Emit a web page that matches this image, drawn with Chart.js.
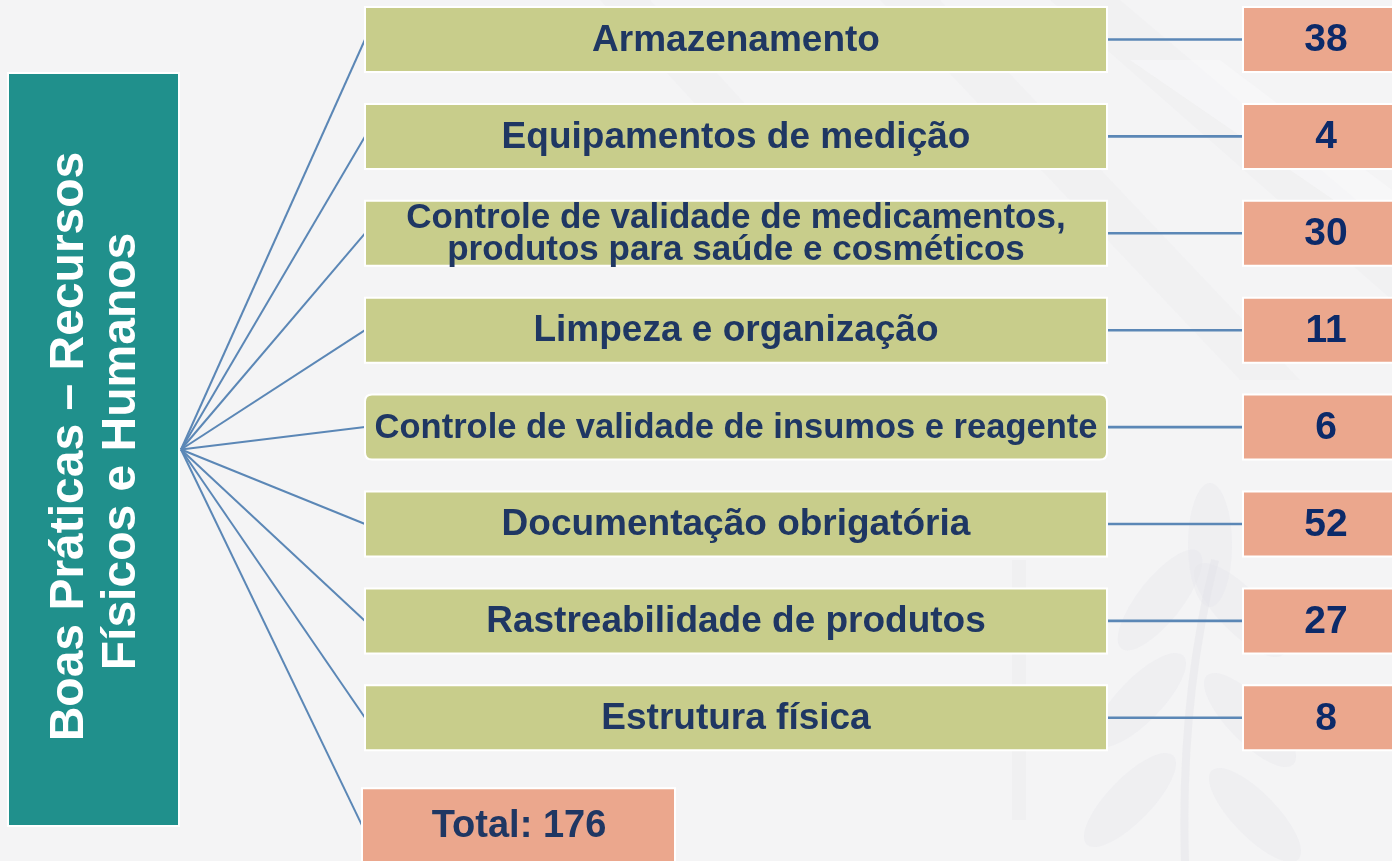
<!DOCTYPE html>
<html>
<head>
<meta charset="utf-8">
<script src="https://cdn.jsdelivr.net/npm/chart.js@4.4.1/dist/chart.umd.min.js"></script>
<style>
html,body{margin:0;padding:0;background:#f4f4f5;overflow:hidden}
#wrap{width:1392px;height:861px;position:relative}
</style>
</head>
<body>
<div id="wrap"><canvas id="c" width="1392" height="861"></canvas></div>
<script>
// ---------- DATA ----------
const categories = [
  'Armazenamento',
  'Equipamentos de medição',
  'Controle de validade de medicamentos,\nprodutos para saúde e cosméticos',
  'Limpeza e organização',
  'Controle de validade de insumos e reagente',
  'Documentação obrigatória',
  'Rastreabilidade de produtos',
  'Estrutura física'
];
const counts = [38, 4, 30, 11, 6, 52, 27, 8];
const totalLabel = 'Total';
const rootTitle = ['Boas Práticas – Recursos', 'Físicos e Humanos'];

const total = counts.reduce((a, b) => a + b, 0);

// ---------- LAYOUT (pixels / row units) ----------
const W = 1392, H = 861;
const ROW0 = 39.5, ROW_STEP = 96.9;
const Y_MIN = -ROW0 / ROW_STEP, Y_MAX = (H - ROW0) / ROW_STEP;
const TOTAL_ROW = categories.length + 0.11;
const ROOT = { left: 8, right: 179, top: 73, bottom: 826 };
const HUB_X = 181;
const HUB_ROW = ((ROOT.top + ROOT.bottom) / 2 - ROW0) / ROW_STEP;
const BOX_L = 365, BOX_R = 1107, BOX_H = 65;
const VAL_L = 1243, VAL_R = 1414, VAL_TX = 1326;
const TOT_L = 362, TOT_R = 675, TOT_H = 74, TOT_TX = 519;

const COL = {
  bg: '#f4f4f5', teal: '#20908c', green: '#c8cd8b', salmon: '#eba78d',
  line: '#5b87b6', label: '#1f3763', value: '#0c2a69'
};
const FONT = '"Liberation Sans", Arial, sans-serif';

// ---------- DATASETS (connectors) ----------
const datasets = [];
categories.forEach((c, i) => {
  datasets.push({ data: [{ x: HUB_X, y: HUB_ROW }, { x: BOX_L, y: i }] });
  datasets.push({ data: [{ x: BOX_R, y: i }, { x: VAL_L, y: i }], borderWidth: 2.6 });
});
datasets.push({ data: [{ x: HUB_X, y: HUB_ROW }, { x: TOT_L, y: TOTAL_ROW }] });
datasets.forEach(d => {
  d.showLine = true;
  d.borderColor = COL.line;
  d.borderWidth = d.borderWidth || 2;
  d.pointRadius = 0;
  d.fill = false;
});

function roundRect(ctx, x, y, w, h, r) {
  ctx.beginPath();
  ctx.moveTo(x + r, y);
  ctx.lineTo(x + w - r, y);
  ctx.quadraticCurveTo(x + w, y, x + w, y + r);
  ctx.lineTo(x + w, y + h - r);
  ctx.quadraticCurveTo(x + w, y + h, x + w - r, y + h);
  ctx.lineTo(x + r, y + h);
  ctx.quadraticCurveTo(x, y + h, x, y + h - r);
  ctx.lineTo(x, y + r);
  ctx.quadraticCurveTo(x, y, x + r, y);
  ctx.closePath();
}

function drawBox(ctx, x1, x2, cy, h, fill, r) {
  ctx.save();
  roundRect(ctx, x1, cy - h / 2, x2 - x1, h, r || 0);
  ctx.fillStyle = fill;
  ctx.fill();
  ctx.lineWidth = 2;
  ctx.strokeStyle = '#ffffff';
  ctx.stroke();
  ctx.restore();
}

function drawWatermark(ctx) {
  ctx.save();
  ctx.fillStyle = 'rgba(234,234,237,0.35)';
  const bands = [
    [[1050, 0], [1120, 0], [1392, 230], [1392, 300]],
    [[880, 0], [940, 0], [1300, 380], [1240, 380]],
    [[600, 0], [650, 0], [760, 120], [710, 120]]
  ];
  bands.forEach(p => {
    ctx.beginPath();
    ctx.moveTo(p[0][0], p[0][1]);
    for (let k = 1; k < p.length; k++) ctx.lineTo(p[k][0], p[k][1]);
    ctx.closePath();
    ctx.fill();
  });
  ctx.fillStyle = 'rgba(250,250,251,0.5)';
  ctx.beginPath();
  ctx.moveTo(1130, 60); ctx.lineTo(1220, 60); ctx.lineTo(1392, 190); ctx.lineTo(1392, 240);
  ctx.closePath(); ctx.fill();
  // plant
  ctx.strokeStyle = 'rgba(226,226,230,0.4)';
  ctx.lineWidth = 8;
  ctx.beginPath();
  ctx.moveTo(1185, 861);
  ctx.quadraticCurveTo(1180, 700, 1215, 560);
  ctx.stroke();
  ctx.fillStyle = 'rgba(230,230,234,0.35)';
  const leaves = [
    [1160, 600, -0.9], [1240, 610, 0.8], [1140, 700, -0.8], [1250, 720, 0.8],
    [1130, 800, -0.8], [1255, 815, 0.8], [1210, 545, 0]
  ];
  leaves.forEach(l => {
    ctx.beginPath();
    ctx.ellipse(l[0], l[1], 62, 22, l[2] + (l[2] === 0 ? Math.PI / 2 : 0), 0, Math.PI * 2);
    ctx.fill();
  });
  ctx.fillStyle = 'rgba(232,232,235,0.35)';
  ctx.fillRect(1012, 560, 14, 260);
  ctx.restore();
}

const diagramPlugin = {
  id: 'diagram',
  beforeDraw(chart) {
    const ctx = chart.ctx;
    ctx.save();
    ctx.fillStyle = COL.bg;
    ctx.fillRect(0, 0, W, H);
    drawWatermark(ctx);
    ctx.fillStyle = COL.teal;
    ctx.fillRect(ROOT.left, ROOT.top, ROOT.right - ROOT.left, ROOT.bottom - ROOT.top);
    ctx.lineWidth = 2;
    ctx.strokeStyle = '#ffffff';
    ctx.strokeRect(ROOT.left, ROOT.top, ROOT.right - ROOT.left, ROOT.bottom - ROOT.top);
    ctx.fillStyle = '#ffffff';
    ctx.font = 'bold 48px ' + FONT;
    ctx.textAlign = 'center';
    ctx.textBaseline = 'alphabetic';
    const cy = (ROOT.top + ROOT.bottom) / 2;
    const baselines = [83, 135];
    const offs = [-3, 2];
    rootTitle.forEach((t, k) => {
      ctx.save();
      ctx.translate(baselines[k], cy + offs[k]);
      ctx.rotate(-Math.PI / 2);
      ctx.fillText(t, 0, 0);
      ctx.restore();
    });
    ctx.restore();
  },
  afterDatasetsDraw(chart) {
    const ctx = chart.ctx;
    const ys = chart.scales.y;
    ctx.save();
    ctx.textAlign = 'center';
    ctx.textBaseline = 'middle';
    categories.forEach((label, i) => {
      const cy = ys.getPixelForValue(i);
      const lines = label.split('\n');
      drawBox(ctx, BOX_L, BOX_R, cy, BOX_H, COL.green, i === 4 ? 7 : 0);
      let size = lines.length > 1 ? 35 : 37;
      ctx.font = 'bold ' + size + 'px ' + FONT;
      while (ctx.measureText(lines[0]).width > (BOX_R - BOX_L - 14) && size > 10) {
        size -= 0.5;
        ctx.font = 'bold ' + size + 'px ' + FONT;
      }
      ctx.fillStyle = COL.label;
      const lh = 32;
      lines.forEach((ln, k) => {
        ctx.fillText(ln, (BOX_L + BOX_R) / 2, cy + (k - (lines.length - 1) / 2) * lh + 1);
      });
      drawBox(ctx, VAL_L, VAL_R, cy, BOX_H, COL.salmon, 0);
      ctx.font = 'bold 39px ' + FONT;
      ctx.fillStyle = COL.value;
      ctx.fillText(String(counts[i]), VAL_TX, cy + 1);
    });
    const ty = ys.getPixelForValue(TOTAL_ROW);
    drawBox(ctx, TOT_L, TOT_R, ty, TOT_H, COL.salmon, 0);
    ctx.font = 'bold 38px ' + FONT;
    ctx.fillStyle = COL.label;
    ctx.fillText(totalLabel + ': ' + total, TOT_TX, ty + 1);
    ctx.restore();
  }
};

new Chart(document.getElementById('c'), {
  type: 'scatter',
  data: { datasets },
  options: {
    responsive: false,
    animation: false,
    devicePixelRatio: 1,
    layout: { padding: 0 },
    events: [],
    scales: {
      x: { type: 'linear', min: 0, max: W, display: false },
      y: { type: 'linear', min: Y_MIN, max: Y_MAX, reverse: true, display: false }
    },
    plugins: { legend: { display: false }, tooltip: { enabled: false } }
  },
  plugins: [diagramPlugin]
});
</script>
</body>
</html>
